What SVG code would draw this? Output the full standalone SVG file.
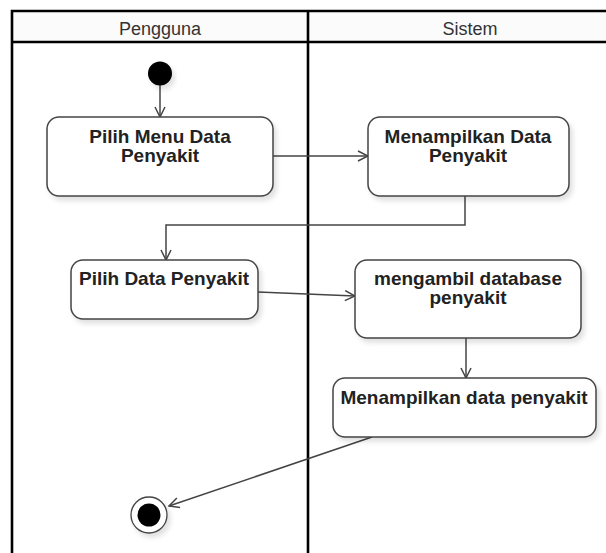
<svg xmlns="http://www.w3.org/2000/svg" width="606" height="553" viewBox="0 0 606 553">
  <defs>
    <style>
      .lane { fill: none; stroke: #000; stroke-width: 2.6; }
      .hdr { font-family: "Liberation Sans", Arial, sans-serif; font-size: 18px; fill: #333; text-anchor: middle; }
      .act { fill: #fff; stroke: #444; stroke-width: 1.5; filter: url(#shadow); }
      .lbl { font-family: "Liberation Sans", Arial, sans-serif; font-size: 19px; font-weight: bold; fill: #222; text-anchor: middle; }
      .flow { fill: none; stroke: #444; stroke-width: 1.5; marker-end: url(#arrow); }
    </style>
    <filter id="shadow" x="-10%" y="-10%" width="130%" height="140%">
      <feDropShadow dx="3" dy="4" stdDeviation="2.5" flood-color="#000" flood-opacity="0.12"/>
    </filter>
    <marker id="arrow" viewBox="0 0 12 12" refX="11" refY="6" markerWidth="12" markerHeight="12" markerUnits="userSpaceOnUse" orient="auto">
      <path d="M1,1 L11,6 L1,11" fill="none" stroke="#444" stroke-width="1.5"/>
    </marker>
  </defs>

  <rect width="606" height="553" fill="#fff"/>

  <!-- swimlanes -->
  <g id="lanes">
    <rect x="12" y="11" width="600" height="31" fill="#fbfbfb"/>
    <path class="lane" d="M12,553 V11 H606 M12,42 H606 M308,11 V553"/>
    <text class="hdr" x="160" y="35">Pengguna</text>
    <text class="hdr" x="470" y="35">Sistem</text>
  </g>

  <!-- connectors -->
  <g id="connectors">
    <path class="flow" d="M160,85 V117"/>
    <path class="flow" d="M273,156 H368"/>
    <path class="flow" d="M465,196 V225 H166 V260"/>
    <path class="flow" d="M258,292 L355,296"/>
    <path class="flow" d="M466,338 V378"/>
    <path class="flow" d="M372,437 L169,506"/>
  </g>

  <g id="start">
    <circle cx="160" cy="73.5" r="12" fill="#000" filter="url(#shadow)"/>
  </g>

  <g id="pilih-menu">
    <rect class="act" x="47" y="117" width="226" height="79" rx="12"/>
    <text class="lbl" x="160" y="143">Pilih Menu Data</text>
    <text class="lbl" x="160" y="162">Penyakit</text>
  </g>

  <g id="tampil-data">
    <rect class="act" x="368" y="117" width="201" height="79" rx="12"/>
    <text class="lbl" x="468" y="143">Menampilkan Data</text>
    <text class="lbl" x="468" y="162">Penyakit</text>
  </g>

  <g id="pilih-data">
    <rect class="act" x="71" y="260" width="187" height="59" rx="12"/>
    <text class="lbl" x="164" y="285">Pilih Data Penyakit</text>
  </g>

  <g id="ambil-db">
    <rect class="act" x="355" y="260" width="226" height="78" rx="12"/>
    <text class="lbl" x="468" y="285">mengambil database</text>
    <text class="lbl" x="468" y="304">penyakit</text>
  </g>

  <g id="tampil-penyakit">
    <rect class="act" x="333" y="378" width="263" height="59" rx="12"/>
    <text class="lbl" x="464" y="404">Menampilkan data penyakit</text>
  </g>

  <g id="end">
    <circle cx="149" cy="515" r="18" fill="#fff" stroke="#444" stroke-width="1.3" filter="url(#shadow)"/>
    <circle cx="149" cy="515" r="11.5" fill="#000"/>
  </g>
</svg>
